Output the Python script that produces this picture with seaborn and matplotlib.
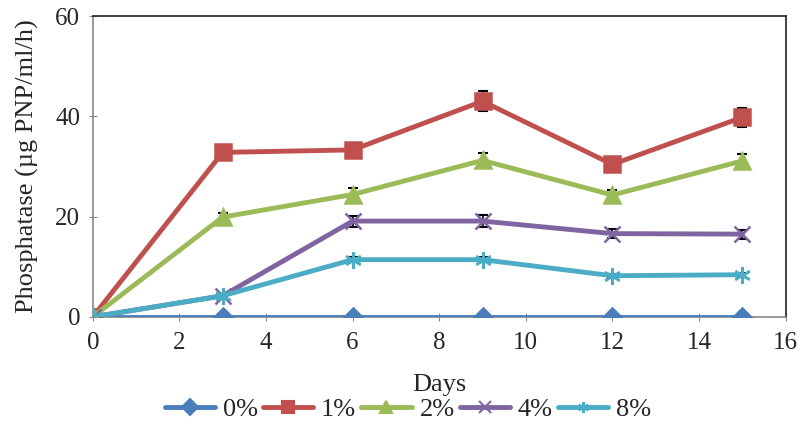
import numpy as np
import pandas as pd
import matplotlib
matplotlib.use("Agg")
import matplotlib.pyplot as plt
import seaborn as sns

# data
days = [0, 3, 6, 9, 12, 15]
groups = ["0%", "1%", "2%", "4%", "8%"]
p0 = [0, 0, 0, 0, 0, 0]
p1 = [0, 32.8, 33.3, 43.0, 30.4, 39.8]
p2 = [0, 19.9, 24.4, 31.2, 24.3, 31.1]
p4 = [0, 4.2, 19.1, 19.1, 16.6, 16.5]
p8 = [0, 4.2, 11.4, 11.4, 8.2, 8.4]
e0 = [0, 0, 0, 0, 0, 0]
e1 = [0.8, 1.0, 1.0, 2.0, 0.6, 1.9]
e2 = [0, 0.9, 1.2, 1.4, 1.0, 1.3]
e4 = [0, 0.3, 1.1, 1.2, 0.9, 0.9]
e8 = [0, 0.3, 0.5, 0.5, 0.3, 0.4]

vals = [p0, p1, p2, p4, p8]
errs = [e0, e1, e2, e4, e8]
colors = ["#4a7ebb", "#c0504d", "#9bbb59", "#8064a2", "#4bacc6"]
marks = ["D", "s", "^", "x", (6, 2, 0)]
msizes = [9, 11, 11, 11, 12]

df = pd.DataFrame({
    "Days": days * len(groups),
    "val": sum(vals, []),
    "err": sum(errs, []),
    "grp": np.repeat(groups, len(days)),
})

sns.set_style("white")
plt.rcParams["font.family"] = ["Liberation Serif", "DejaVu Serif"]

fig = plt.figure(figsize=(8, 4.45), dpi=100)
ax = fig.add_axes([0.116, 0.288, 0.866, 0.676])

# error bars under the markers, only caps poke out
for g in groups:
    d = df[df.grp == g]
    ax.errorbar(d["Days"], d["val"], yerr=d["err"], fmt="none",
                ecolor="black", elinewidth=1.2, capsize=3.5, capthick=1.5, zorder=2)

for g, c, m, s in zip(groups, colors, marks, msizes):
    d = df[df.grp == g]
    sns.lineplot(data=d, x="Days", y="val", color=c, marker=m,
                 linewidth=3.5, markersize=s, markeredgewidth=1.8,
                 markeredgecolor=c, ax=ax, legend=False, zorder=3)

ax.set_xlim(0, 16)
ax.set_ylim(0, 60)
ax.set_xticks(range(0, 17, 2))
ax.set_yticks([0, 20, 40, 60])
ax.tick_params(axis="both", labelsize=18, direction="inout", length=6,
               color="#888888", bottom=True, left=True)
ax.tick_params(axis="x", pad=8)
ax.tick_params(axis="y", pad=6)
ax.set_xlabel("Days", fontsize=19, labelpad=14)
ax.set_ylabel("Phosphatase (µg PNP/ml/h)", fontsize=19, labelpad=12)
for s in ["left", "bottom"]:
    ax.spines[s].set_color("#888888")
for s in ["top", "right"]:
    ax.spines[s].set_color("#222222")
for s in ax.spines.values():
    s.set_linewidth(1.2)

handles = [plt.Line2D([], [], color=c, marker=m, lw=3.5, ms=8, mec=c, mew=1.5)
           for c, m in zip(colors, marks)]
fig.legend(handles, groups, loc="center", bbox_to_anchor=(0.51, 0.08), ncol=5,
           frameon=False, fontsize=19, handlelength=1.9, handletextpad=0.3,
           columnspacing=0.2)

fig.savefig("out.png", dpi=100)
